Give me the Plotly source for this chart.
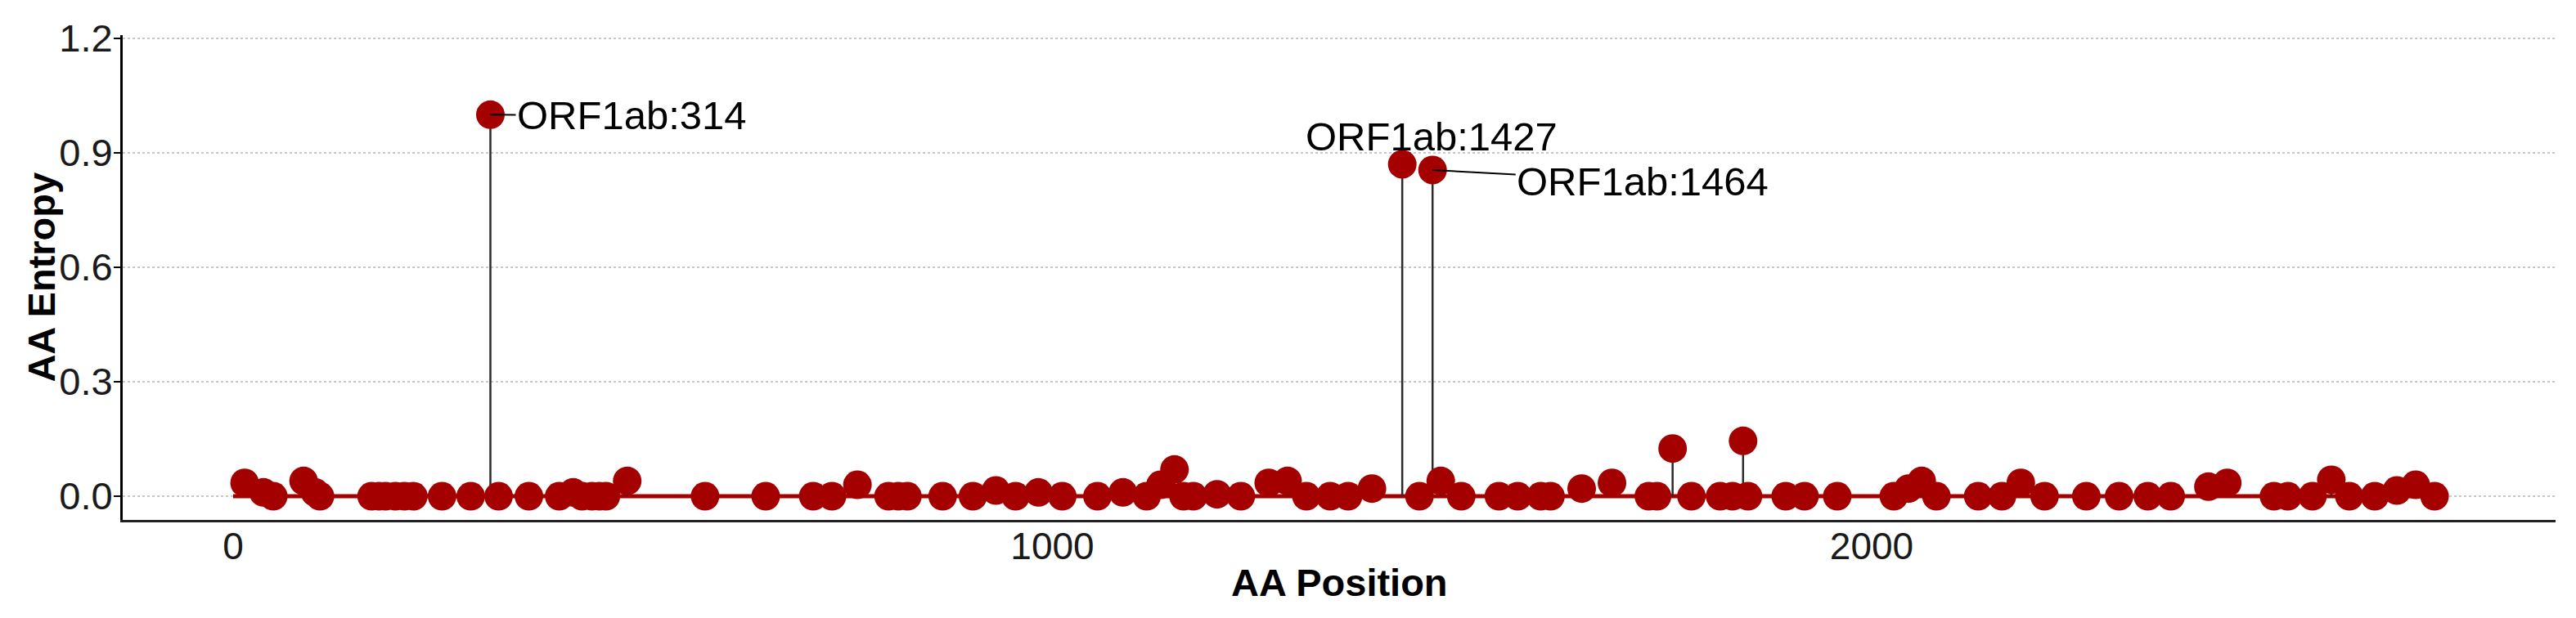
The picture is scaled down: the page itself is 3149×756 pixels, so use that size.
import plotly.graph_objects as go

# amino-acid positions and their entropy values
positions = [
    14, 37, 49, 86, 100, 106, 169, 178, 186, 198, 209, 220, 255, 290, 314, 324,
    361, 398, 415, 426, 438, 447, 455, 481, 576, 650, 708, 731, 762, 800, 812,
    823, 866, 903, 931, 955, 983, 1012, 1055, 1086, 1115, 1132, 1149, 1160,
    1172, 1201, 1230, 1264, 1287, 1310, 1339, 1361, 1390, 1427, 1448, 1464,
    1474, 1499, 1545, 1568, 1596, 1608, 1646, 1683, 1728, 1738, 1757, 1780,
    1815, 1830, 1843, 1849, 1895, 1918, 1958, 2027, 2045, 2061, 2079, 2130,
    2159, 2182, 2211, 2262, 2302, 2337, 2365, 2411, 2434, 2491, 2508, 2538,
    2561, 2583, 2614, 2641, 2664, 2687,
]
entropy = [
    0.035, 0.01, 0.0, 0.04, 0.01, 0.0, 0.0, 0.0, 0.0, 0.0, 0.0, 0.0, 0.0, 0.0,
    1.0, 0.0, 0.0, 0.0, 0.01, 0.0, 0.0, 0.0, 0.0, 0.04, 0.0, 0.0, 0.0, 0.0,
    0.03, 0.0, 0.0, 0.0, 0.0, 0.0, 0.015, 0.0, 0.01, 0.0, 0.0, 0.01, 0.0, 0.03,
    0.07, 0.0, 0.0, 0.005, 0.0, 0.035, 0.04, 0.0, 0.0, 0.0, 0.02, 0.87, 0.0,
    0.855, 0.04, 0.0, 0.0, 0.0, 0.0, 0.0, 0.02, 0.035, 0.0, 0.0, 0.125, 0.0,
    0.0, 0.0, 0.145, 0.0, 0.0, 0.0, 0.0, 0.0, 0.02, 0.04, 0.0, 0.0, 0.0, 0.035,
    0.0, 0.0, 0.0, 0.0, 0.0, 0.025, 0.035, 0.0, 0.0, 0.0, 0.043, 0.0, 0.0,
    0.015, 0.03, 0.0,
]

# labelled sites
label_pos = [314, 1427, 1464]
label_text = ["ORF1ab:314", "ORF1ab:1427", "ORF1ab:1464"]

y_ticks = [0.0, 0.3, 0.6, 0.9, 1.2]
x_ticks = [0, 1000, 2000]

RED = "#A50000"
FONT = "Liberation Sans, Arial, sans-serif"

fig = go.Figure()

# red baseline along the sequence
fig.add_trace(go.Scatter(
    x=[0, positions[-1]], y=[0, 0], mode="lines",
    line=dict(color=RED, width=5), hoverinfo="skip", showlegend=False,
))

# lollipop stems
stem_x, stem_y = [], []
for p, e in zip(positions, entropy):
    stem_x += [p, p, None]
    stem_y += [0, e, None]
fig.add_trace(go.Scatter(
    x=stem_x, y=stem_y, mode="lines",
    line=dict(color="#2b2b2b", width=2.5), hoverinfo="skip", showlegend=False,
))

fig.add_trace(go.Scatter(
    x=positions, y=entropy, mode="markers",
    marker=dict(color=RED, size=35, line=dict(width=0)),
    showlegend=False,
))

# repel-style labels (pixel offsets from each point)
offsets = {314: (173, 1, True), 1427: (36, -34, False), 1464: (257, 14, True)}
for p, txt in zip(label_pos, label_text):
    e = entropy[positions.index(p)]
    ax, ay, arrow = offsets[p]
    if arrow:
        fig.add_annotation(
            x=p, y=e, text=txt, showarrow=True, ax=ax, ay=ay,
            arrowhead=0, arrowwidth=2, arrowcolor="black", standoff=0,
            font=dict(size=49, color="black", family=FONT),
        )
    else:
        fig.add_annotation(
            x=p, y=e, text=txt, showarrow=False, xshift=ax, yshift=-ay,
            font=dict(size=49, color="black", family=FONT),
        )

# axis titles placed like ggplot's
fig.add_annotation(
    text="<b>AA Position</b>", xref="paper", yref="paper", x=0.5, y=-0.1298,
    xanchor="center", yanchor="middle", showarrow=False,
    font=dict(size=47, color="black", family=FONT),
)
fig.add_annotation(
    text="<b>AA Entropy</b>", xref="paper", yref="paper", x=-0.0336, y=0.5,
    xanchor="center", yanchor="middle", showarrow=False, textangle=-90,
    font=dict(size=47, color="black", family=FONT),
)

fig.update_layout(
    width=3149, height=756,
    margin=dict(l=150, r=25, t=43, b=120),
    paper_bgcolor="white", plot_bgcolor="white",
    font=dict(family=FONT, color="#1a1a1a"),
)

fig.update_xaxes(
    range=[-134.8, 2834.7], tickvals=x_ticks,
    showline=True, linecolor="#222222", linewidth=3,
    ticks="", ticklabelstandoff=-10,
    showgrid=False, zeroline=False,
    tickfont=dict(size=46, color="#1a1a1a"),
)
fig.update_yaxes(
    range=[-0.0621, 1.2085], tickvals=y_ticks, tickformat=".1f",
    showline=True, linecolor="black", linewidth=3,
    ticks="outside", ticklen=8, tickwidth=2, tickcolor="black",
    ticklabelstandoff=-8,
    showgrid=True, gridcolor="#c8c8c8", griddash="dot", gridwidth=2,
    zeroline=False,
    tickfont=dict(size=47, color="#1a1a1a"),
)

# drop the browser's default body margin so the figure sits at the page origin
fig.write_html(
    "out.html",
    config={"displayModeBar": False},
    post_script="document.body.style.margin='0px';",
)
